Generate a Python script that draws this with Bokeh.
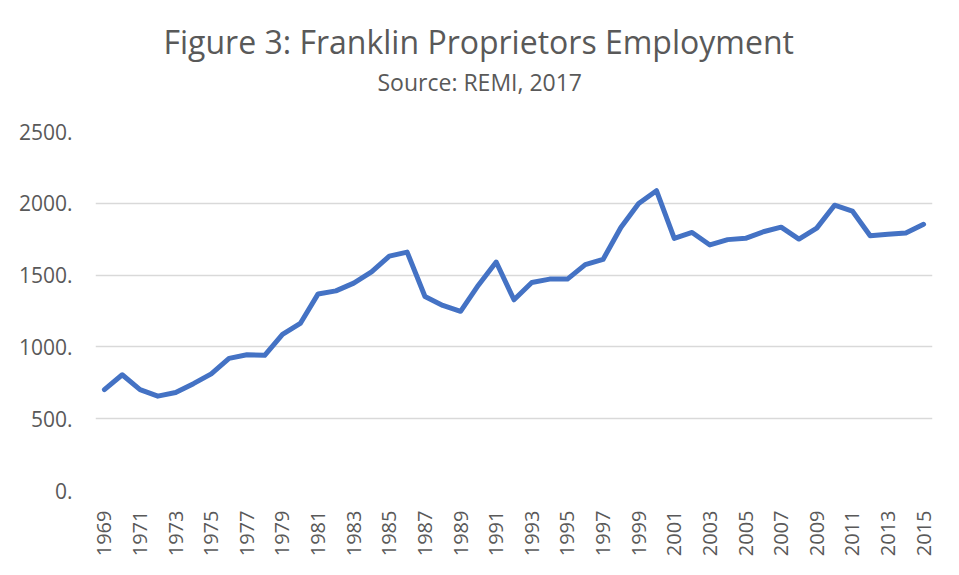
from bokeh.plotting import figure
from bokeh.models import Range1d, FixedTicker, PrintfTickFormatter, Title, ColumnDataSource
from bokeh.embed import file_html
from bokeh.resources import INLINE
import math

years = list(range(1969, 2016))
employment = [702, 806, 702, 657, 682, 744, 812, 920, 945, 941,
              1087, 1163, 1369, 1390, 1444, 1522, 1632, 1660, 1351, 1289,
              1248, 1430, 1591, 1328, 1449, 1472, 1472, 1573, 1609, 1832,
              1999, 2088, 1756, 1797, 1710, 1747, 1756, 1802, 1834, 1751,
              1827, 1987, 1946, 1774, 1784, 1793, 1854]
x_tick_years = list(range(1969, 2016, 2))
y_ticks = [0, 500, 1000, 1500, 2000, 2500]

title_text = "Figure 3: Franklin Proprietors Employment"
subtitle_text = "Source: REMI, 2017"

FONT = "Open Sans"
GREY = "#595959"

p = figure(width=943, height=559, output_backend="svg", toolbar_location=None,
           x_range=Range1d(years[0] - 0.5, years[-1] + 0.5),
           y_range=Range1d(0, 2500),
           min_border_left=95, min_border_right=11, min_border_bottom=64,
           min_border_top=131)
p.background_fill_color = "white"
p.border_fill_color = "white"
p.outline_line_color = None

src = ColumnDataSource(dict(year=years, emp=employment))
p.line("year", "emp", source=src, line_color="#4472C4", line_width=5,
       line_join="round", line_cap="round")

# axes
p.xaxis.ticker = FixedTicker(ticks=x_tick_years)
p.xaxis.major_label_orientation = math.pi / 2
p.xaxis.major_label_text_font = FONT
p.xaxis.major_label_text_font_size = "20px"
p.xaxis.major_label_text_color = GREY
p.xaxis.axis_line_color = None
p.xaxis.major_tick_line_color = None
p.xaxis.minor_tick_line_color = None
p.xaxis.major_label_standoff = 14

p.yaxis.ticker = FixedTicker(ticks=y_ticks)
p.yaxis.formatter = PrintfTickFormatter(format="%d.")
p.yaxis.major_label_text_font = FONT
p.yaxis.major_label_text_font_size = "21px"
p.yaxis.major_label_text_color = GREY
p.yaxis.axis_line_color = None
p.yaxis.major_tick_line_color = None
p.yaxis.minor_tick_line_color = None
p.yaxis.major_label_standoff = 17

p.xgrid.grid_line_color = None
p.ygrid.grid_line_color = "#d9d9d9"
p.ygrid.grid_line_width = 1.3

# titles (first added sits closest to the plot area)
p.add_layout(Title(text=" ", align="center", text_font=FONT,
                   text_font_size="1px", text_color="white", standoff=29), "above")
p.add_layout(Title(text=subtitle_text, align="left", offset=282, text_font=FONT,
                   text_font_size="23px", text_font_style="normal",
                   text_color=GREY, standoff=4), "above")
p.add_layout(Title(text=title_text, align="left", offset=68, text_font=FONT,
                   text_font_size="32px", text_font_style="normal",
                   text_color=GREY, standoff=-2), "above")

open("out.html", "w").write(file_html(p, INLINE))
